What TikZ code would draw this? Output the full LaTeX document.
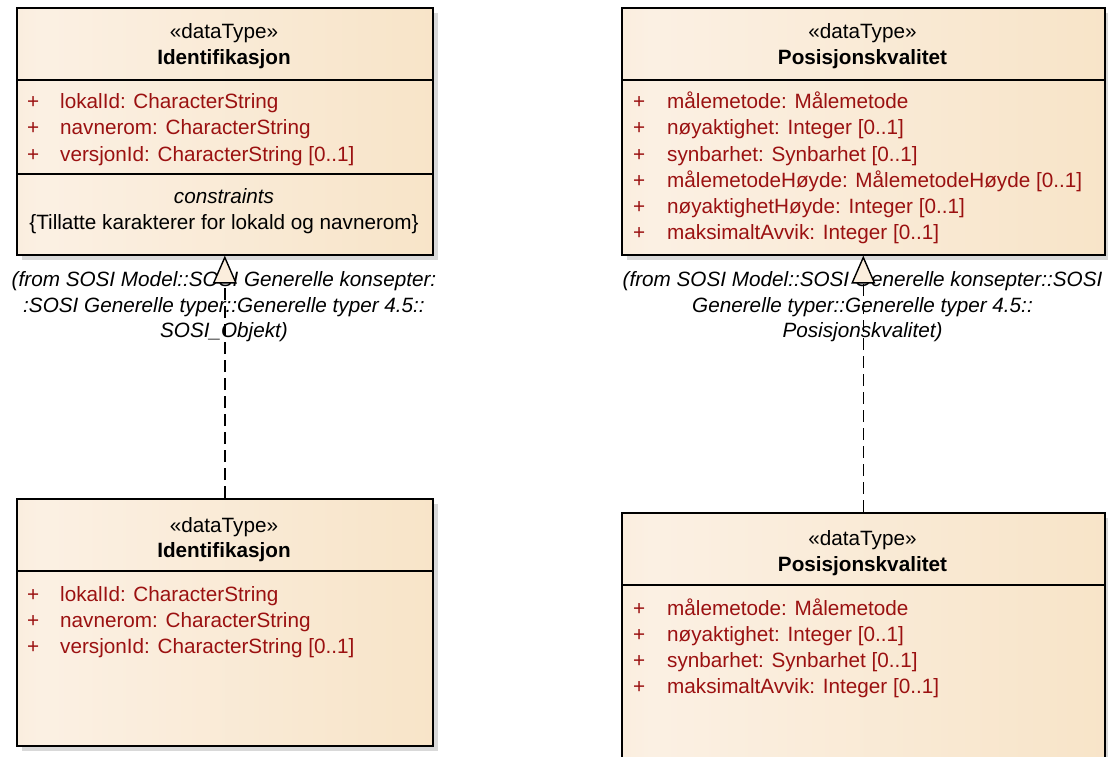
\documentclass[tikz,border=0pt]{standalone}
\usepackage{fontspec}
\setmainfont{Liberation Sans}
\usetikzlibrary{arrows.meta,shadows}
\definecolor{attr}{HTML}{9B1111}
\definecolor{boxL}{HTML}{F5DCB8}
\definecolor{boxM}{HTML}{FBF0E3}
\definecolor{boxR}{HTML}{F6DEBA}
\definecolor{shadowc}{HTML}{D9D9D9}
\definecolor{trifill}{HTML}{FBEEDD}
\pgfdeclarehorizontalshading{umlshade}{100bp}{color(0bp)=(boxL); color(28bp)=(boxM); color(100bp)=(boxR)}
\newcommand{\umlfont}{\fontsize{20.7}{24}\selectfont}
\tikzset{
  umlbox/.style={rectangle, draw=black, line width=1.6pt, shade, shading=umlshade,
    inner sep=0pt, anchor=north west,
    drop shadow={shadow xshift=5pt, shadow yshift=-5pt, fill=shadowc, opacity=1}},
  sepline/.style={draw=black, line width=1.4pt},
  stereo/.style={anchor=base, inner sep=0pt, font=\umlfont},
  cname/.style={anchor=base, inner sep=0pt, font=\bfseries\umlfont},
  plus/.style={anchor=base west, inner sep=0pt, text=attr, font=\umlfont},
  attrib/.style={anchor=base west, inner sep=0pt, text=attr, font=\umlfont},
  ctitle/.style={anchor=base, inner sep=0pt, font=\itshape\umlfont},
  ctext/.style={anchor=base, inner sep=0pt, font=\umlfont},
  fromlbl/.style={anchor=base, inner sep=0pt, font=\itshape\umlfont},
  realize/.style={draw=black, line width=1.6pt, dash pattern=on 12pt off 6pt,
    -{Triangle[width=24pt, length=28pt, fill=trifill, line width=1.4pt]}}
}
\begin{document}
\begin{tikzpicture}[x=1pt, y=-1pt]
\useasboundingbox (0,0) rectangle (1108,757);
\clip (0,0) rectangle (1108,757);
\fill[white] (0,0) rectangle (1108,757);

% ---------- Box 1: Identifikasjon (top left)
\node[umlbox, minimum width=416pt, minimum height=247pt] (id1) at (16,7) {};
\draw[sepline] (16,80) -- (432,80);
\draw[sepline] (16,174) -- (432,174);
\node[stereo] (id1st) at (224,39) {«dataType»};
\node[cname] (id1nm) at (224,65) {Identifikasjon};
\node[plus] (id1p1) at (27,109) {+};
\node[plus] (id1p2) at (27,135) {+};
\node[plus] (id1p3) at (27,161) {+};
\node[attrib] (id1a1) at (60,109) {lokalId: CharacterString};
\node[attrib] (id1a2) at (60,135) {navnerom: CharacterString};
\node[attrib] (id1a3) at (60,161) {versjonId: CharacterString [0..1]};
\node[ctitle] (id1ct) at (224,203) {constraints};
\node[ctext] (id1c1) at (224,229) {\{Tillatte karakterer for lokald og navnerom\}};

% ---------- Box 2: Posisjonskvalitet (top right)
\node[umlbox, minimum width=483pt, minimum height=247pt] (pk1) at (621,7) {};
\draw[sepline] (621,80) -- (1104,80);
\node[stereo] (pk1st) at (862.5,39) {«dataType»};
\node[cname] (pk1nm) at (862.5,65) {Posisjonskvalitet};
\node[plus] (pk1p1) at (633,109) {+};
\node[plus] (pk1p2) at (633,135) {+};
\node[plus] (pk1p3) at (633,161) {+};
\node[plus] (pk1p4) at (633,187) {+};
\node[plus] (pk1p5) at (633,213) {+};
\node[plus] (pk1p6) at (633,239) {+};
\node[attrib] (pk1a1) at (667,109) {målemetode: Målemetode};
\node[attrib] (pk1a2) at (667,135) {nøyaktighet: Integer [0..1]};
\node[attrib] (pk1a3) at (667,161) {synbarhet: Synbarhet [0..1]};
\node[attrib] (pk1a4) at (667,187) {målemetodeHøyde: MålemetodeHøyde [0..1]};
\node[attrib] (pk1a5) at (667,213) {nøyaktighetHøyde: Integer [0..1]};
\node[attrib] (pk1a6) at (667,239) {maksimaltAvvik: Integer [0..1]};

% ---------- Box 3: Identifikasjon (bottom left)
\node[umlbox, minimum width=416pt, minimum height=247pt] (id2) at (16,498) {};
\draw[sepline] (16,571) -- (432,571);
\node[stereo] (id2st) at (224,532) {«dataType»};
\node[cname] (id2nm) at (224,557) {Identifikasjon};
\node[plus] (id2p1) at (27,601) {+};
\node[plus] (id2p2) at (27,627) {+};
\node[plus] (id2p3) at (27,653) {+};
\node[attrib] (id2a1) at (60,601) {lokalId: CharacterString};
\node[attrib] (id2a2) at (60,627) {navnerom: CharacterString};
\node[attrib] (id2a3) at (60,653) {versjonId: CharacterString [0..1]};

% ---------- Box 4: Posisjonskvalitet (bottom right)
\node[umlbox, minimum width=483pt, minimum height=280pt] (pk2) at (621,512) {};
\draw[sepline] (621,585) -- (1104,585);
\node[stereo] (pk2st) at (862.5,545) {«dataType»};
\node[cname] (pk2nm) at (862.5,571) {Posisjonskvalitet};
\node[plus] (pk2p1) at (633,615) {+};
\node[plus] (pk2p2) at (633,641) {+};
\node[plus] (pk2p3) at (633,667) {+};
\node[plus] (pk2p4) at (633,693) {+};
\node[attrib] (pk2a1) at (667,615) {målemetode: Målemetode};
\node[attrib] (pk2a2) at (667,641) {nøyaktighet: Integer [0..1]};
\node[attrib] (pk2a3) at (667,667) {synbarhet: Synbarhet [0..1]};
\node[attrib] (pk2a4) at (667,693) {maksimaltAvvik: Integer [0..1]};

% ---------- "from" labels
\node[fromlbl] (lab1a) at (224,286) {(from SOSI Model::SOSI Generelle konsepter:};
\node[fromlbl] (lab1b) at (224,312) {:SOSI Generelle typer::Generelle typer 4.5::};
\node[fromlbl] (lab1c) at (224,337) {SOSI\_Objekt)};
\node[fromlbl] (lab2a) at (862.5,286) {(from SOSI Model::SOSI Generelle konsepter::SOSI};
\node[fromlbl] (lab2b) at (862.5,312) {Generelle typer::Generelle typer 4.5::};
\node[fromlbl] (lab2c) at (862.5,337) {Posisjonskvalitet)};

% ---------- realization connectors
\draw[realize] (id2.north) -- (id1.south);
\draw[realize] (pk2.north) -- (pk1.south);
\end{tikzpicture}
\end{document}
